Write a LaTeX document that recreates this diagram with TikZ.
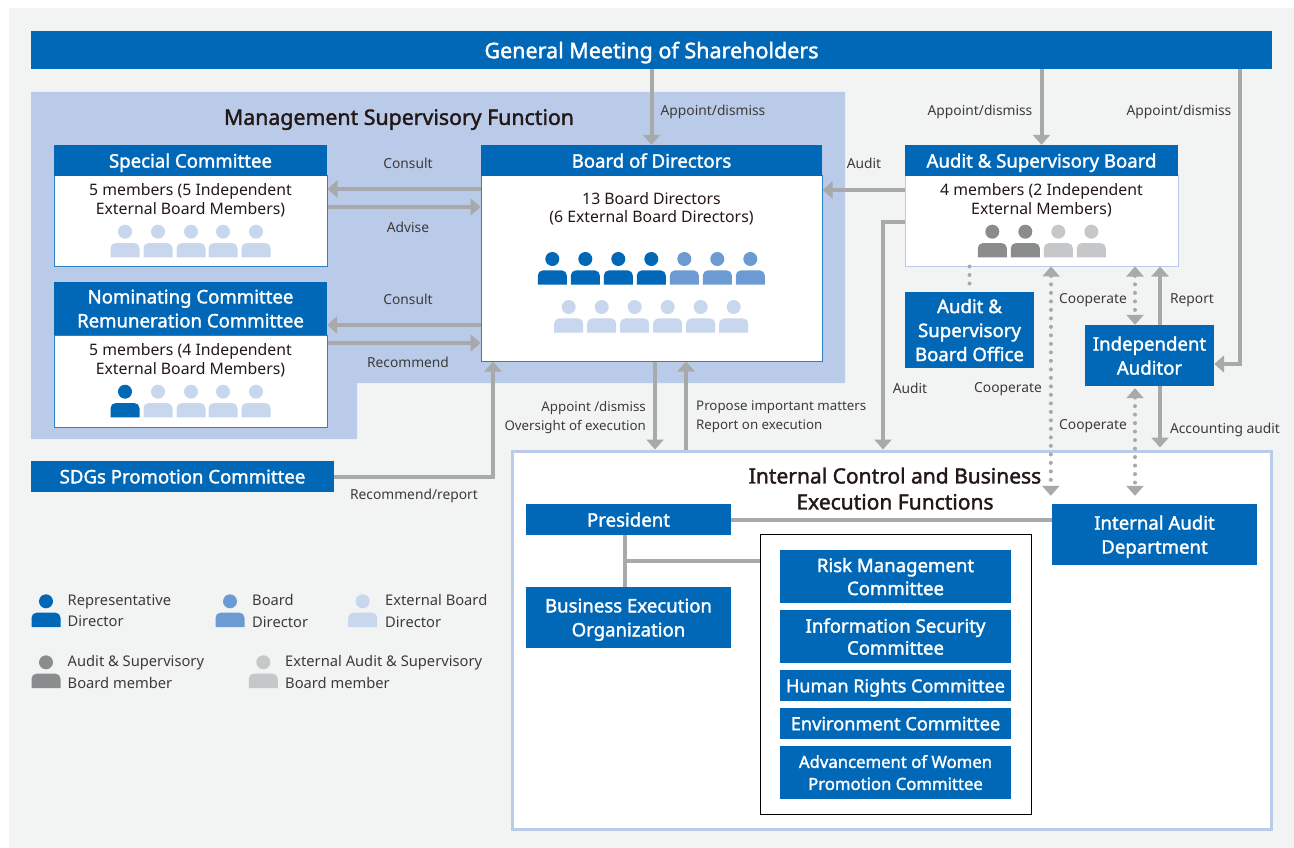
\documentclass[tikz,border=0pt]{standalone}
\usepackage{fontspec}
\setmainfont{Noto Sans}
\newfontfamily\semifont{Noto Sans}[FakeBold=1.7]
\usetikzlibrary{arrows.meta}
\definecolor{pagegray}{HTML}{F2F4F4}
\definecolor{boxblue}{HTML}{0068B7}
\definecolor{edgeblue}{HTML}{2F7FC6}
\definecolor{regionblue}{HTML}{B9CBE9}
\definecolor{repblue}{HTML}{0068B7}
\definecolor{dirblue}{HTML}{6C9AD2}
\definecolor{extblue}{HTML}{C8D7EE}
\definecolor{auditgray}{HTML}{8A8C8E}
\definecolor{extgray}{HTML}{C6C7C9}
\definecolor{linegray}{HTML}{A7A9AA}
\definecolor{inktext}{HTML}{231815}
\definecolor{labeltext}{HTML}{3E3A39}
\tikzset{
  hdr/.style={fill=boxblue,text=white,inner sep=0pt,text depth=0pt,align=center,font=\semifont\fontsize{18.6}{24}\selectfont},
  bodybox/.style={fill=white,draw=edgeblue,line width=1pt,inner sep=0pt},
  bodytext/.style={text=inktext,align=center,inner sep=0pt,text depth=0pt,font=\fontsize{15.8}{18.7}\selectfont},
  lbl/.style={text=labeltext,inner sep=0pt,text depth=0pt,font=\fontsize{13.8}{19}\selectfont},
  execlbl/.style={lbl,font=\fontsize{13.3}{19}\selectfont},
  keylbl/.style={lbl,anchor=west,align=left,font=\fontsize{14.7}{21.5}\selectfont},
  title/.style={text=inktext,align=center,inner sep=0pt,text depth=0pt,font=\semifont\fontsize{21}{26}\selectfont},
  conn/.style={draw=linegray,line width=4pt,-{Triangle[width=17pt,length=10pt]}},
  link/.style={draw=linegray,line width=4pt},
  dotlink/.style={draw=linegray,line width=4pt,line cap=round,dash pattern=on 0pt off 8.5pt},
  dotboth/.style={dotlink,{Triangle[width=17pt,length=10pt]}-{Triangle[width=17pt,length=10pt]}},
  person/.pic={
    \fill (0,0) circle (7pt);
    \fill (-14.5,25.7) [rounded corners=5pt] -- (-14.5,11.4) -- (14.5,11.4) [sharp corners] -- (14.5,25.7) -- cycle;
  }
}
\begin{document}
\begin{tikzpicture}[x=1pt,y=-1pt]
\useasboundingbox (0,0) rectangle (1294,848);
%page and regions
\fill[pagegray] (9,8) rectangle (1294,848);
\fill[regionblue] (31,92) -- (845,92) -- (845,383) -- (357,383) -- (357,439) -- (31,439) -- cycle;
\node[fill=white,draw=regionblue,line width=3pt,inner sep=0pt,minimum width=759pt,minimum height=378pt] (internal) at (891.5,640) {};
%top bar
\node[hdr,minimum width=1241pt,minimum height=38pt,font=\semifont\fontsize{21.5}{26}\selectfont] (gms) at (651.5,50) {General Meeting of Shareholders};
\node[title,font=\semifont\fontsize{21.3}{26}\selectfont] (supervisory) at (399,117) {Management Supervisory Function};
%special committee
\node[bodybox,minimum width=273pt,minimum height=90pt] (sbody) at (190.5,221) {};
\node[hdr,minimum width=273pt,minimum height=31pt] (special) at (190.5,160.5) {Special Committee};
\node[bodytext] (stext) at (190.5,199) {5 members (5 Independent\\External Board Members)};
\foreach \x in {125,158,191,223,256}{
\pic[fill=extblue] at (\x,231.7) {person};
}
%nominating committee
\node[bodybox,minimum width=273pt,minimum height=92pt] (nbody) at (190.5,381) {};
\node[hdr,minimum width=273pt,minimum height=53pt] (nominating) at (190.5,308.5) {Nominating Committee\\Remuneration Committee};
\node[bodytext] (ntext) at (190.5,359) {5 members (4 Independent\\External Board Members)};
\pic[fill=repblue] at (125,391.7) {person};
\foreach \x in {158,191,223,256}{
\pic[fill=extblue] at (\x,391.7) {person};
}
%board of directors
\node[bodybox,minimum width=341pt,minimum height=185pt] (bbody) at (651.5,268.5) {};
\node[hdr,minimum width=341pt,minimum height=31pt] (board) at (651.5,160.5) {Board of Directors};
\node[bodytext] (btext) at (651.5,207.5) {13 Board Directors\\(6 External Board Directors)};
\foreach \x in {552.3,585.3,618.3,651.3}{
\pic[fill=repblue] at (\x,259) {person};
}
\foreach \x in {684.3,717.3,750.3}{
\pic[fill=dirblue] at (\x,259) {person};
}
\foreach \x in {568.7,601.7,634.7,667.7,700.7,733.7}{
\pic[fill=extblue] at (\x,307) {person};
}
%audit board
\node[bodybox,draw=regionblue,minimum width=273pt,minimum height=90pt] (abody) at (1041.5,221) {};
\node[hdr,minimum width=273pt,minimum height=31pt] (audit) at (1041.5,160.5) {Audit \& Supervisory Board};
\node[bodytext] (atext) at (1041.5,199) {4 members (2 Independent\\External Members)};
\foreach \x in {992.3,1025.3}{
\pic[fill=auditgray] at (\x,231.7) {person};
}
\foreach \x in {1058.3,1091.3}{
\pic[fill=extgray] at (\x,231.7) {person};
}
\node[hdr,minimum width=129pt,minimum height=76pt] (office) at (969.5,330) {Audit \&\\Supervisory\\Board Office};
\node[hdr,minimum width=129pt,minimum height=61pt] (auditor) at (1149.5,355.5) {Independent\\Auditor};
\node[hdr,minimum width=303pt,minimum height=31pt] (sdgs) at (182.5,476.5) {SDGs Promotion Committee};
%internal control
\node[title] (control) at (895,488.5) {Internal Control and Business\\Execution Functions};
\node[hdr,minimum width=205pt,minimum height=31pt] (president) at (628.5,519.5) {President};
\node[hdr,minimum width=205pt,minimum height=61pt] (bizexec) at (628.5,617.5) {Business Execution\\Organization};
\node[hdr,minimum width=205pt,minimum height=61pt] (iaudit) at (1154.5,534.5) {Internal Audit\\Department};
\node[draw=black,fill=white,line width=1pt,inner sep=0pt,minimum width=271pt,minimum height=280pt] (inner) at (895.5,674) {};
\node[hdr,minimum width=231pt,minimum height=53pt,font=\semifont\fontsize{18.6}{23}\selectfont] (risk) at (895.5,576.5) {Risk Management\\Committee};
\node[hdr,minimum width=231pt,minimum height=53pt,font=\semifont\fontsize{18.6}{22}\selectfont] (infosec) at (895.5,636.5) {Information Security\\Committee};
\node[hdr,minimum width=231pt,minimum height=31pt,font=\semifont\fontsize{18}{22}\selectfont] (rights) at (895.5,685.5) {Human Rights Committee};
\node[hdr,minimum width=231pt,minimum height=31pt,font=\semifont\fontsize{18.2}{22}\selectfont] (environment) at (895.5,723.5) {Environment Committee};
\node[hdr,minimum width=231pt,minimum height=53pt,font=\semifont\fontsize{16.7}{22}\selectfont] (women) at (895.5,772.5) {Advancement of Women\\Promotion Committee};
%connectors
\draw[conn] (gms.south -| board.north) -- (board.north);
\draw[conn] (gms.south -| audit.north) -- (audit.north);
\draw[conn] ([xshift=588.5pt]gms.south) |- ([yshift=-8.5pt]auditor.east);
\draw[conn] ([yshift=79.5pt]bbody.west) -- ([yshift=32pt]sbody.east);
\draw[conn] ([yshift=14pt]sbody.east) -- ([yshift=61.5pt]bbody.west);
\draw[conn] ([yshift=-56.5pt]bbody.west) -- ([yshift=-16.5pt]nominating.east);
\draw[conn] ([yshift=38pt]nbody.east) -- ([yshift=-74.5pt]bbody.west);
\draw[conn] (sdgs.east) -| ([xshift=-158.5pt]bbody.south);
\draw[conn] ([yshift=31pt]abody.west) -- ([yshift=78.5pt]bbody.east);
\draw[conn] ([yshift=-1pt]abody.west) -| ([xshift=-8.5pt]internal.north);
\draw[conn] ([xshift=3.5pt]bbody.south) -- ([xshift=-236.5pt]internal.north);
\draw[conn] ([xshift=-205.5pt]internal.north) -- ([xshift=34.5pt]bbody.south);
\draw[dotlink] ([xshift=-72pt]abody.south) -- (office.north);
\draw[dotboth] ([xshift=9.5pt]abody.south) -- ([xshift=-1pt,yshift=8pt]iaudit.north west);
\draw[dotboth] ([xshift=93.5pt]abody.south) -- ([xshift=-14.5pt]auditor.north);
\draw[conn] ([xshift=10.5pt]auditor.north) -- ([xshift=118.5pt]abody.south);
\draw[dotboth] ([xshift=-14.5pt,yshift=-2pt]auditor.south) -- ([xshift=-19.5pt,yshift=8pt]iaudit.north);
\draw[conn] ([xshift=10.5pt]auditor.south) -- ([xshift=268.5pt,yshift=2pt]internal.north);
\draw[link] (president.east) -- ([yshift=15pt]iaudit.west);
\draw[link] ([xshift=-3.5pt]president.south) -- ([xshift=-3.5pt]bizexec.north);
\draw[link] ([yshift=113pt]inner.west) -| ([xshift=-3.5pt]bizexec.north);
%labels
\node[lbl] (l1) at (408,163) {Consult};
\node[lbl] (l2) at (408,227) {Advise};
\node[lbl] (l3) at (408,299) {Consult};
\node[lbl] (l4) at (408,362) {Recommend};
\node[lbl] (l5) at (414,494) {Recommend/report};
\node[lbl] (l6) at (713,110) {Appoint/dismiss};
\node[lbl] (l7) at (980,110) {Appoint/dismiss};
\node[lbl] (l8) at (1179,110) {Appoint/dismiss};
\node[lbl] (l9) at (864,163) {Audit};
\node[lbl] (l10) at (910,388) {Audit};
\node[lbl] (l11) at (1008,388) {Cooperate};
\node[lbl] (l12) at (1093,299) {Cooperate};
\node[lbl] (l13) at (1093,425) {Cooperate};
\node[lbl] (l14) at (1192,299) {Report};
\node[lbl] (l15) at (1225,428) {Accounting audit};
\node[execlbl,anchor=east,align=right] (l16) at (646,415.5) {Appoint /dismiss\\Oversight of execution};
\node[execlbl,anchor=west,align=left] (l17) at (696,415.5) {Propose important matters\\Report on execution};
%legend
\pic[fill=repblue] at (46,601.3) {person};
\pic[fill=dirblue] at (230,601.3) {person};
\pic[fill=extblue] at (362.7,601.3) {person};
\pic[fill=auditgray] at (46,662.3) {person};
\pic[fill=extgray] at (263.3,662.3) {person};
\node[keylbl] (k1) at (67.5,610.8) {Representative\\Director};
\node[keylbl] (k2) at (252,610.8) {Board\\Director};
\node[keylbl] (k3) at (385,610.8) {External Board\\Director};
\node[keylbl] (k4) at (67.5,671.8) {Audit \& Supervisory\\Board member};
\node[keylbl] (k5) at (285,671.8) {External Audit \& Supervisory\\Board member};
\end{tikzpicture}
\end{document}
